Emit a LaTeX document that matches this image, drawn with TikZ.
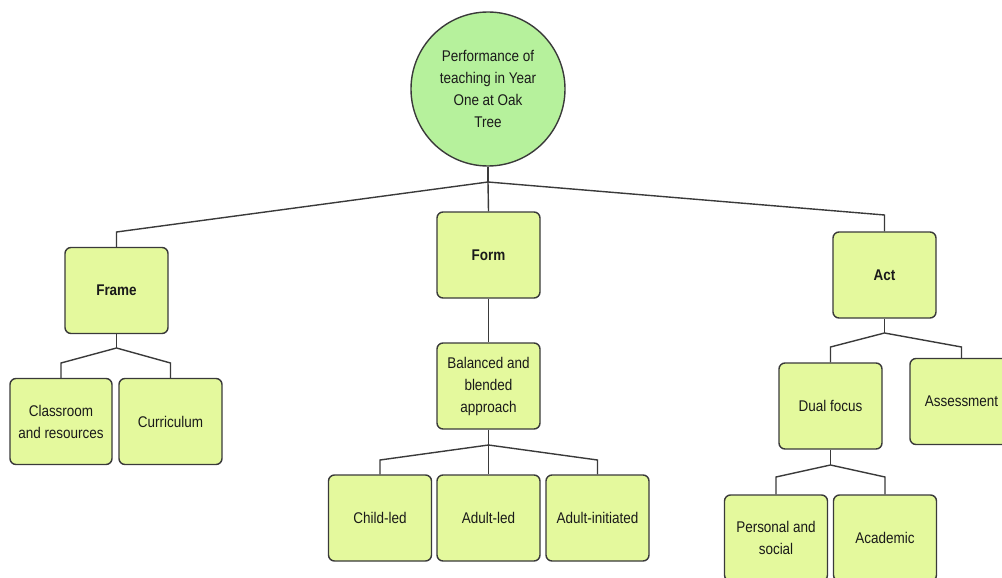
\documentclass[tikz,border=0pt]{standalone}
\usepackage{fontspec}
\setmainfont{Liberation Sans}[FakeStretch=0.87]
\definecolor{boxfill}{HTML}{E4F99D}
\definecolor{rootfill}{HTML}{B6F19C}
\definecolor{edge}{HTML}{3A3A3A}
\definecolor{ink}{HTML}{1A1A1A}
\begin{document}
\begin{tikzpicture}[x=1pt,y=-1pt,
  txt/.style={font=\fontsize{15.5}{22}\selectfont, text=ink, align=center},
  box/.style={txt, draw=edge, fill=boxfill, line width=1.4pt, rounded corners=6pt,
    minimum width=103pt, minimum height=86pt, inner sep=2pt},
  rootnode/.style={txt, circle, draw=edge, fill=rootfill, line width=1.4pt,
    minimum size=154pt, inner sep=0pt},
  link/.style={draw=edge, line width=1.4pt}]
\useasboundingbox (0,0) rectangle (1002,578);
\clip (0,0) rectangle (1002,578);

% nodes
\node[rootnode] (root) at (488,89) {Performance of\\teaching in Year\\One at Oak\\Tree};
\node[box] (frame) at (116.5,290.5) {\textbf{Frame}};
\node[box] (form) at (488.5,255) {\textbf{Form}};
\node[box] (act) at (884.5,275) {\textbf{Act}};
\node[box, minimum width=102pt] (classroom) at (61,421.5) {Classroom\\and resources};
\node[box] (curriculum) at (170.5,421.5) {Curriculum};
\node[box] (balanced) at (488.5,386) {Balanced and\\blended\\approach};
\node[box] (childled) at (380,518) {Child-led};
\node[box] (adultled) at (488.5,518) {Adult-led};
\node[box] (adultinit) at (597.5,518) {Adult-initiated};
\node[box] (dual) at (830.5,406) {Dual focus};
\node[box] (assess) at (961.5,401.5) {Assessment};
\node[box] (personal) at (776,538) {Personal and\\social};
\node[box] (academic) at (885,538) {Academic};

% junction and elbow points
\coordinate (jr) at (488,182);
\coordinate (eF) at (116.5,232);
\coordinate (eA) at (884.5,215);
\coordinate (jf) at (116.5,348);
\coordinate (eCl) at (61,363);
\coordinate (eCu) at (170.5,363);
\coordinate (jb) at (488.5,445);
\coordinate (eCh) at (380,460);
\coordinate (eAi) at (597.5,460);
\coordinate (ja) at (884.5,333);
\coordinate (eDu) at (830.5,347);
\coordinate (eAs) at (961.5,347);
\coordinate (jd) at (830.5,465);
\coordinate (ePe) at (776,477);
\coordinate (eAc) at (885,477);

% connectors
\draw[link] (root.south) -- (jr);
\draw[link] (jr) -- (eF) -- (frame.north);
\draw[link] (jr) -- (form.north);
\draw[link] (jr) -- (eA) -- (act.north);

\draw[link] (frame.south) -- (jf);
\draw[link] (jf) -- (eCl) -- (classroom.north);
\draw[link] (jf) -- (eCu) -- (curriculum.north);

\draw[link] (form.south) -- (balanced.north);
\draw[link] (balanced.south) -- (jb);
\draw[link] (jb) -- (eCh) -- (childled.north);
\draw[link] (jb) -- (adultled.north);
\draw[link] (jb) -- (eAi) -- (adultinit.north);

\draw[link] (act.south) -- (ja);
\draw[link] (ja) -- (eDu) -- (dual.north);
\draw[link] (ja) -- (eAs) -- (assess.north);

\draw[link] (dual.south) -- (jd);
\draw[link] (jd) -- (ePe) -- (personal.north);
\draw[link] (jd) -- (eAc) -- (academic.north);
\end{tikzpicture}
\end{document}
